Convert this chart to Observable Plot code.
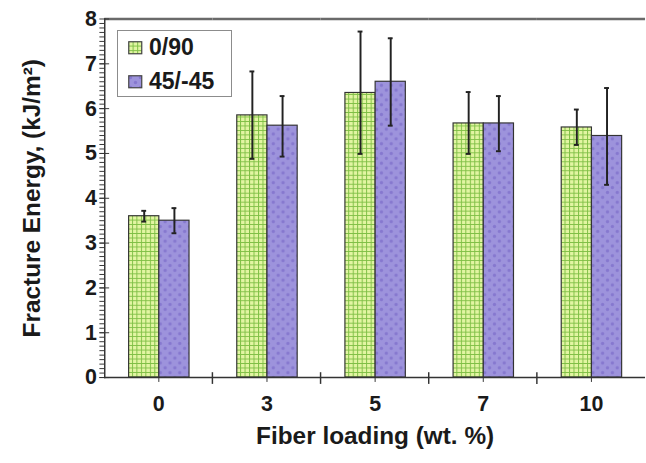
<!DOCTYPE html>
<html>
<head>
<meta charset="utf-8">
<script src="https://cdn.jsdelivr.net/npm/d3@7"></script>
<script src="https://cdn.jsdelivr.net/npm/@observablehq/plot@0.6"></script>
<style>
  html, body { margin: 0; padding: 0; background: #fff; overflow: hidden; }
  #wrap { position: relative; width: 646px; height: 463px; overflow: hidden; font-family: "Liberation Sans", Arial, sans-serif; }
  #legend { position: absolute; left: 117px; top: 30px; width: 113px; height: 65px; border: 1.5px solid #8c8c8c; background: #fff; }
  .item { position: absolute; left: 10px; display: flex; align-items: center; font-weight: bold; font-size: 23px; color: #1a1a1a; }
  .item svg { margin-right: 6px; }
</style>
</head>
<body>
<svg width="0" height="0" style="position:absolute">
  <defs>
    <pattern id="pg" width="4.6" height="4.6" patternUnits="userSpaceOnUse">
      <rect width="4.6" height="4.6" fill="#e2f5a2"></rect>
      <path d="M0 0.5H4.6M0.5 0V4.6" stroke="#7fbf45" stroke-width="1"></path>
    </pattern>
    <pattern id="pp" width="10" height="10" patternUnits="userSpaceOnUse">
      <rect width="10" height="10" fill="#9d93dc"></rect>
      <circle cx="2.5" cy="2.5" r="1.7" fill="#8678cf"></circle>
      <circle cx="7.5" cy="7.5" r="1.7" fill="#8678cf"></circle>
    </pattern>
  </defs>
</svg>
<div id="wrap">
  <div id="chart"></div>
  <div id="legend"></div>
</div>
<script>
// ---- data ----
const loadings = ["0", "3", "5", "7", "10"];
const series = ["0/90", "45/-45"];
const mean090 = [3.6, 5.85, 6.35, 5.67, 5.58];
const lo090   = [3.48, 4.88, 4.99, 4.99, 5.19];
const hi090   = [3.72, 6.83, 7.72, 6.37, 5.98];
const mean4545 = [3.5, 5.62, 6.6, 5.67, 5.39];
const lo4545   = [3.22, 4.93, 5.62, 5.05, 4.3];
const hi4545   = [3.78, 6.28, 7.57, 6.28, 6.46];
const yMajor = [0, 1, 2, 3, 4, 5, 6, 7, 8];
const yMinor = d3.range(0, 80).map(i => i / 10);
const seriesFills = ["url(#pg)", "url(#pp)"];

const rows = [];
loadings.forEach((l, i) => {
  rows.push({loading: l, series: series[0], value: mean090[i], lo: lo090[i], hi: hi090[i]});
  rows.push({loading: l, series: series[1], value: mean4545[i], lo: lo4545[i], hi: hi4545[i]});
});

const chart = Plot.plot({
  width: 663,
  height: 463,
  marginLeft: 105,
  marginRight: 0,
  marginTop: 19,
  marginBottom: 76,
  style: {fontFamily: "'Liberation Sans', Arial, sans-serif", color: "#1a1a1a", background: "#fff"},
  fx: {domain: loadings, padding: 0},
  x: {domain: series, paddingInner: 0, paddingOuter: 0.746, axis: null},
  y: {domain: [0, 8], axis: null},
  color: {domain: series, range: seriesFills},
  marks: [
    Plot.barY(rows, {fx: "loading", x: "series", y: "value", fill: "series", stroke: "#333", strokeWidth: 1.2}),
    Plot.ruleX(rows, {fx: "loading", x: "series", y1: "lo", y2: "hi", stroke: "#222", strokeWidth: 2}),
    Plot.tickY(rows, {fx: "loading", x: "series", y: "lo", insetLeft: 13, insetRight: 13, stroke: "#222", strokeWidth: 2}),
    Plot.tickY(rows, {fx: "loading", x: "series", y: "hi", insetLeft: 13, insetRight: 13, stroke: "#222", strokeWidth: 2}),
    Plot.ruleY([0], {stroke: "#333", strokeWidth: 1.5}),
    Plot.ruleY([8], {stroke: "#6a6a6a", strokeWidth: 2.5}),
    Plot.frame({anchor: "left", facetAnchor: "left", stroke: "#333", strokeWidth: 1.5}),
    Plot.axisY({ticks: yMinor, tickSize: 5, tickFormat: () => "", label: null, stroke: "#333"}),
    Plot.axisY({ticks: yMajor, tickSize: 10, dx: 5, tickFormat: () => "", label: null, stroke: "#333"}),
    Plot.axisY({ticks: yMajor, tickSize: 0, tickPadding: 8, fontSize: 22, fontWeight: "bold", label: null}),
    Plot.axisY({ticks: [], tickSize: 0, fontSize: 25, fontWeight: "bold", label: "Fracture Energy, (kJ/m²)", labelAnchor: "center", labelOffset: 84, labelArrow: "none"}),
    Plot.axisFx({anchor: "bottom", tickSize: 5, tickPadding: 14, fontSize: 22, fontWeight: "bold", stroke: "#333", label: null}),
    Plot.axisFx({anchor: "bottom", ticks: [], tickSize: 0, fontSize: 25, fontWeight: "bold", label: "Fiber loading (wt. %)", labelAnchor: "center", labelOffset: 68, labelArrow: "none"})
  ]
});
document.getElementById("chart").appendChild(chart);

// boundary ticks between loading groups, crossing the x axis (positions from Plot's fx and y scales)
const fxScale = chart.scale("fx");
const yScale = chart.scale("y");
const y0 = yScale.apply(0);
const edges = loadings.slice(1).map(l => fxScale.apply(l));
d3.select(chart).append("g")
  .attr("stroke", "#333").attr("stroke-width", 1.5)
  .selectAll("line").data(edges).join("line")
  .attr("x1", d => d).attr("x2", d => d)
  .attr("y1", y0 - 5).attr("y2", y0 + 7);

// legend (inside plot area, as in the reference)
const legend = document.getElementById("legend");
series.forEach((s, i) => {
  const item = document.createElement("div");
  item.className = "item";
  item.style.top = (i === 0 ? 3 : 37) + "px";
  item.innerHTML = `<svg width="15" height="14"><rect x="0.75" y="0.75" width="13" height="12" fill="${seriesFills[i]}" stroke="#444" stroke-width="1.2"></rect></svg><span>${s}</span>`;
  legend.appendChild(item);
});
</script>
</body>
</html>
